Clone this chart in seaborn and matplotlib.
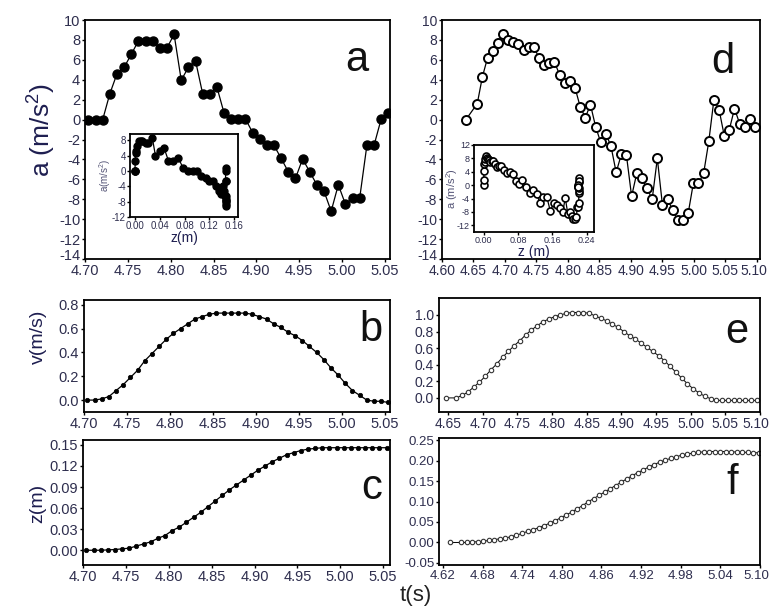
import numpy as np
import pandas as pd
import matplotlib
matplotlib.use("Agg")
import matplotlib.pyplot as plt
import matplotlib.transforms as mtrans
import seaborn as sns

sns.set_style("white")
plt.rcParams['font.family'] = ['Liberation Sans', 'DejaVu Sans']
plt.rcParams['axes.unicode_minus'] = False
plt.rcParams['mathtext.fontset'] = 'custom'
plt.rcParams['mathtext.rm'] = 'Liberation Sans'
plt.rcParams['mathtext.it'] = 'Liberation Sans'

# ---------------- data ----------------
# left column: sampling start & step (s)
T0_LEFT = 4.704
DT_LEFT = 1 / 120
A_LEFT = [0, 0, 0, 2.6, 4.6, 5.25, 6.55, 7.9, 7.9, 7.9, 7.2, 7.2, 8.55, 3.95, 5.25,
          5.9, 2.6, 2.6, 3.25, 0.65, 0.05, 0.05, 0.05, -1.3, -1.95, -2.6, -2.6, -3.9,
          -5.25, -5.9, -3.95, -5.25, -6.55, -7.2, -9.2, -6.55, -8.5, -7.85, -7.85,
          -2.6, -2.6, 0.05, 0.65]
V_LEFT = [0.0, 0.0, 0.01, 0.03, 0.08, 0.13, 0.19, 0.25, 0.33, 0.39, 0.45, 0.51, 0.56,
          0.60, 0.64, 0.68, 0.70, 0.72, 0.73, 0.73, 0.73, 0.73, 0.73, 0.72, 0.70, 0.68,
          0.64, 0.61, 0.57, 0.54, 0.50, 0.45, 0.40, 0.34, 0.27, 0.21, 0.14, 0.08, 0.04,
          0.00, -0.01, -0.01, -0.02]
Z_LEFT = [0.000, 0.000, 0.000, 0.0005, 0.001, 0.002, 0.003, 0.006, 0.009, 0.012, 0.017,
          0.021, 0.028, 0.033, 0.040, 0.047, 0.054, 0.062, 0.070, 0.078, 0.086, 0.093,
          0.100, 0.107, 0.114, 0.120, 0.126, 0.131, 0.136, 0.139, 0.142, 0.144, 0.145,
          0.146, 0.146, 0.146, 0.146, 0.146, 0.146, 0.146, 0.146, 0.146, 0.146]

# right column: first sample time, start of regular run, step
T_D_FIRST, T_D_START, DT_D = 4.638, 4.656, 0.00817
A_RIGHT = [0.0, 1.6, 4.3, 6.2, 6.9, 7.7, 8.6, 8.0, 7.8, 7.6, 7.0, 7.3, 7.3, 6.2, 5.5,
           5.7, 5.8, 4.5, 3.7, 3.9, 3.2, 1.3, 0.2, 1.5, -0.7, -2.3, -1.4, -2.7, -5.3,
           -3.5, -3.6, -7.7, -5.4, -5.9, -6.9, -8.0, -3.9, -8.6, -8.0, -9.1, -10.1,
           -10.1, -9.4, -6.4, -6.4, -5.4, -2.2, 2.0, 1.0, -1.6, -1.0, 1.1, -0.4, -0.7,
           0.1, -0.7]
T_E_FIRST, T_E_START, DT_E = 4.647, 4.662, 1 / 120
V_RIGHT = [0.00, 0.00, 0.03, 0.07, 0.13, 0.19, 0.26, 0.34, 0.41, 0.49, 0.56, 0.63, 0.69,
           0.76, 0.82, 0.87, 0.92, 0.95, 0.98, 1.00, 1.02, 1.03, 1.03, 1.03, 1.02, 0.99,
           0.96, 0.93, 0.89, 0.85, 0.80, 0.75, 0.71, 0.66, 0.61, 0.56, 0.51, 0.45, 0.38,
           0.31, 0.24, 0.17, 0.11, 0.06, 0.02, -0.01, -0.03, -0.03, -0.03, -0.03, -0.03,
           -0.03, -0.03, -0.03]
T_F_FIRST, T_F_START, DT_F = 4.631, 4.648, 1 / 120
Z_RIGHT = [0.000, 0.000, 0.000, 0.001, 0.002, 0.003, 0.005, 0.007, 0.009, 0.011, 0.014,
           0.018, 0.022, 0.027, 0.031, 0.036, 0.041, 0.047, 0.053, 0.060, 0.067, 0.074,
           0.082, 0.090, 0.099, 0.107, 0.115, 0.123, 0.131, 0.139, 0.147, 0.155, 0.163,
           0.170, 0.177, 0.184, 0.190, 0.196, 0.201, 0.205, 0.209, 0.213, 0.216, 0.218,
           0.220, 0.221, 0.222, 0.222, 0.222, 0.222, 0.221, 0.221, 0.220, 0.220, 0.219,
           0.219]

XT_LEFT = [4.70, 4.75, 4.80, 4.85, 4.90, 4.95, 5.00, 5.05]
XT_D = [4.60, 4.65, 4.70, 4.75, 4.80, 4.85, 4.90, 4.95, 5.00, 5.05, 5.10]
XT_E = [4.65, 4.70, 4.75, 4.80, 4.85, 4.90, 4.95, 5.00, 5.05, 5.10]
XT_F = [4.62, 4.68, 4.74, 4.80, 4.86, 4.92, 4.98, 5.04, 5.10]
YT_A = [-14, -12, -10, -8, -6, -4, -2, 0, 2, 4, 6, 8, 10]
YT_B = [0.0, 0.2, 0.4, 0.6, 0.8]
YT_C = [0.00, 0.03, 0.06, 0.09, 0.12, 0.15]
YT_E = [0.0, 0.2, 0.4, 0.6, 0.8, 1.0]
YT_F = [-0.05, 0.00, 0.05, 0.10, 0.15, 0.20, 0.25]
YT_INS_A = [-12, -8, -4, 0, 4, 8]
XT_INS_A = [0.00, 0.04, 0.08, 0.12, 0.16]
YT_INS_D = [-12, -8, -4, 0, 4, 8, 12]
XT_INS_D = [0.00, 0.08, 0.16, 0.24]

t_left = T0_LEFT + DT_LEFT * np.arange(len(A_LEFT))
t_d = np.r_[T_D_FIRST, T_D_START + DT_D * np.arange(len(A_RIGHT) - 1)]
t_e = np.r_[T_E_FIRST, T_E_START + DT_E * np.arange(len(V_RIGHT) - 1)]
t_f = np.r_[T_F_FIRST, T_F_START + DT_F * np.arange(len(Z_RIGHT) - 1)]

# ---------------- figure ----------------
W, H = 769, 614
fig = plt.figure(figsize=(W / 100, H / 100), dpi=100)
fig.patch.set_facecolor('white')

def rect(l, t, r, b):
    return [l / W, 1 - b / H, (r - l) / W, (b - t) / H]

TICKC = '#2e2e4e'
LABC = '#1e1e50'

def style(ax, fs=10):
    for s in ax.spines.values():
        s.set_visible(True)
        s.set_color('black')
        s.set_linewidth(1.3)
    ax.tick_params(direction='out', length=2.5, width=1, colors='black',
                   labelcolor=TICKC, labelsize=fs, pad=1,
                   bottom=True, left=True, top=False, right=False)
    ax.set_xlabel('')
    ax.set_ylabel('')
    ax.grid(False)

def nudge(lab, dx_px, dy_px):
    off = mtrans.ScaledTranslation(dx_px / 100, dy_px / 100, fig.dpi_scale_trans)
    lab.set_transform(lab.get_transform() + off)

def line(ax, x, y, ms, filled, mew=1.0, lw=0.9, mec='black'):
    sns.lineplot(x=x, y=y, ax=ax, estimator=None, sort=False, color='black',
                 linewidth=lw, marker='o', markersize=ms,
                 markerfacecolor='black' if filled else 'white',
                 markeredgecolor=mec, markeredgewidth=mew, legend=False)

# panel a
ax_a = fig.add_axes(rect(85, 20, 390, 259))
line(ax_a, t_left, A_LEFT, 6.5, True)
ax_a.set_xlim(4.70, 5.056); ax_a.set_ylim(-14, 10)
ax_a.set_xticks(XT_LEFT); ax_a.set_yticks(YT_A)
ax_a.set_xticklabels([f'{v:.2f}' for v in XT_LEFT])
ax_a.set_yticklabels([str(v) for v in YT_A])
style(ax_a, fs=10.5)
nudge(ax_a.get_yticklabels()[0], 0, 4)

# panel b
ax_b = fig.add_axes(rect(84, 300, 390, 412))
line(ax_b, t_left, V_LEFT, 3.2, True, mew=0.5)
ax_b.set_xlim(4.70, 5.056); ax_b.set_ylim(-0.10, 0.84)
ax_b.set_xticks(XT_LEFT); ax_b.set_yticks(YT_B)
ax_b.set_xticklabels([f'{v:.2f}' for v in XT_LEFT])
ax_b.set_yticklabels([f'{v:.1f}' for v in YT_B])
style(ax_b, fs=10.5)

# panel c
ax_c = fig.add_axes(rect(83, 440, 390, 565))
line(ax_c, t_left, Z_LEFT, 3.2, True, mew=0.5)
ax_c.set_xlim(4.70, 5.058); ax_c.set_ylim(-0.021, 0.157)
ax_c.set_xticks(XT_LEFT); ax_c.set_yticks(YT_C)
ax_c.set_xticklabels([f'{v:.2f}' for v in XT_LEFT])
ax_c.set_yticklabels([f'{v:.2f}' for v in YT_C])
style(ax_c, fs=10.5)

# panel d
ax_d = fig.add_axes(rect(442, 20, 760, 259))
line(ax_d, t_d, A_RIGHT, 6.5, False, mew=1.4)
ax_d.set_xlim(4.60, 5.105); ax_d.set_ylim(-14, 10)
ax_d.set_xticks(XT_D); ax_d.set_yticks(YT_A)
ax_d.set_xticklabels([f'{v:.2f}' for v in XT_D])
ax_d.set_yticklabels([str(v) for v in YT_A])
style(ax_d, fs=10)
nudge(ax_d.get_xticklabels()[-1], -3, 0)
nudge(ax_d.get_yticklabels()[0], 0, 4)

# panel e
ax_e = fig.add_axes(rect(439, 298, 760, 412))
line(ax_e, t_e, V_RIGHT, 3.2, False, mew=0.8, lw=0.7, mec='#333333')
ax_e.set_xlim(4.637, 5.10); ax_e.set_ylim(-0.17, 1.205)
ax_e.set_xticks(XT_E); ax_e.set_yticks(YT_E)
ax_e.set_xticklabels([f'{v:.2f}' for v in XT_E])
ax_e.set_yticklabels([f'{v:.1f}' for v in YT_E])
style(ax_e, fs=10)
nudge(ax_e.get_xticklabels()[-1], -4, 0)

# panel f
ax_f = fig.add_axes(rect(439, 438, 760, 565))
line(ax_f, t_f, Z_RIGHT, 3.2, False, mew=0.8, lw=0.7, mec='#333333')
ax_f.set_xlim(4.614, 5.10); ax_f.set_ylim(-0.055, 0.255)
ax_f.set_xticks(XT_F); ax_f.set_yticks(YT_F)
ax_f.set_xticklabels([f'{v:.2f}' for v in XT_F])
ax_f.set_yticklabels([f'{v:.2f}' for v in YT_F])
style(ax_f, fs=9.5)
nudge(ax_f.get_xticklabels()[-1], -4, 0)

# inset a
ax_ia = fig.add_axes(rect(130, 134, 238, 217))
line(ax_ia, Z_LEFT, A_LEFT, 5, True)
ax_ia.set_xlim(-0.008, 0.166); ax_ia.set_ylim(-12, 9.6)
ax_ia.set_xticks(XT_INS_A); ax_ia.set_yticks(YT_INS_A)
ax_ia.set_xticklabels([f'{v:.2f}' for v in XT_INS_A])
ax_ia.set_yticklabels([str(v) for v in YT_INS_A])
style(ax_ia, fs=7)
ax_ia.tick_params(length=2)
ax_ia.set_xlabel('z(m)', fontsize=10, color=LABC, labelpad=0)
ax_ia.set_ylabel(r'a(m/s$^2$)', fontsize=7, color='#555577', labelpad=-1)

# inset d
ax_id = fig.add_axes(rect(474, 145, 594, 232))
line(ax_id, Z_RIGHT, A_RIGHT, 5, False, mew=1.2)
ax_id.set_xlim(-0.023, 0.257); ax_id.set_ylim(-14, 12)
ax_id.set_xticks(XT_INS_D); ax_id.set_yticks(YT_INS_D)
ax_id.set_xticklabels([f'{v:.2f}' for v in XT_INS_D])
ax_id.set_yticklabels([str(v) for v in YT_INS_D])
style(ax_id, fs=6.5)
ax_id.tick_params(length=2)
ax_id.set_xlabel('z (m)', fontsize=10, color=LABC, labelpad=0)
ax_id.set_ylabel(r'a (m/s$^2$)', fontsize=8, color='#555577', labelpad=-2)

# axis labels
fig.text(42 / W, 1 - 130 / H, r'a (m/s$^2$)', rotation=90, ha='center', va='center',
         fontsize=19, color=LABC)
fig.text(38 / W, 1 - 337 / H, 'v(m/s)', rotation=90, ha='center', va='center',
         fontsize=14, color=LABC)
fig.text(38 / W, 1 - 503 / H, 'z(m)', rotation=90, ha='center', va='center',
         fontsize=14, color=LABC)
fig.text(416 / W, 1 - 596 / H, 't(s)', ha='center', va='center', fontsize=16,
         color='#222222')

# panel letters
for (x, y, s) in [(357, 60, 'a'), (371, 330, 'b'), (372, 488, 'c'),
                  (723, 62, 'd'), (737, 332, 'e'), (732, 483, 'f')]:
    fig.text(x / W, 1 - y / H, s, ha='center', va='center', fontsize=30,
             color='#111111')

fig.savefig('out.png', dpi=100, facecolor='white')
